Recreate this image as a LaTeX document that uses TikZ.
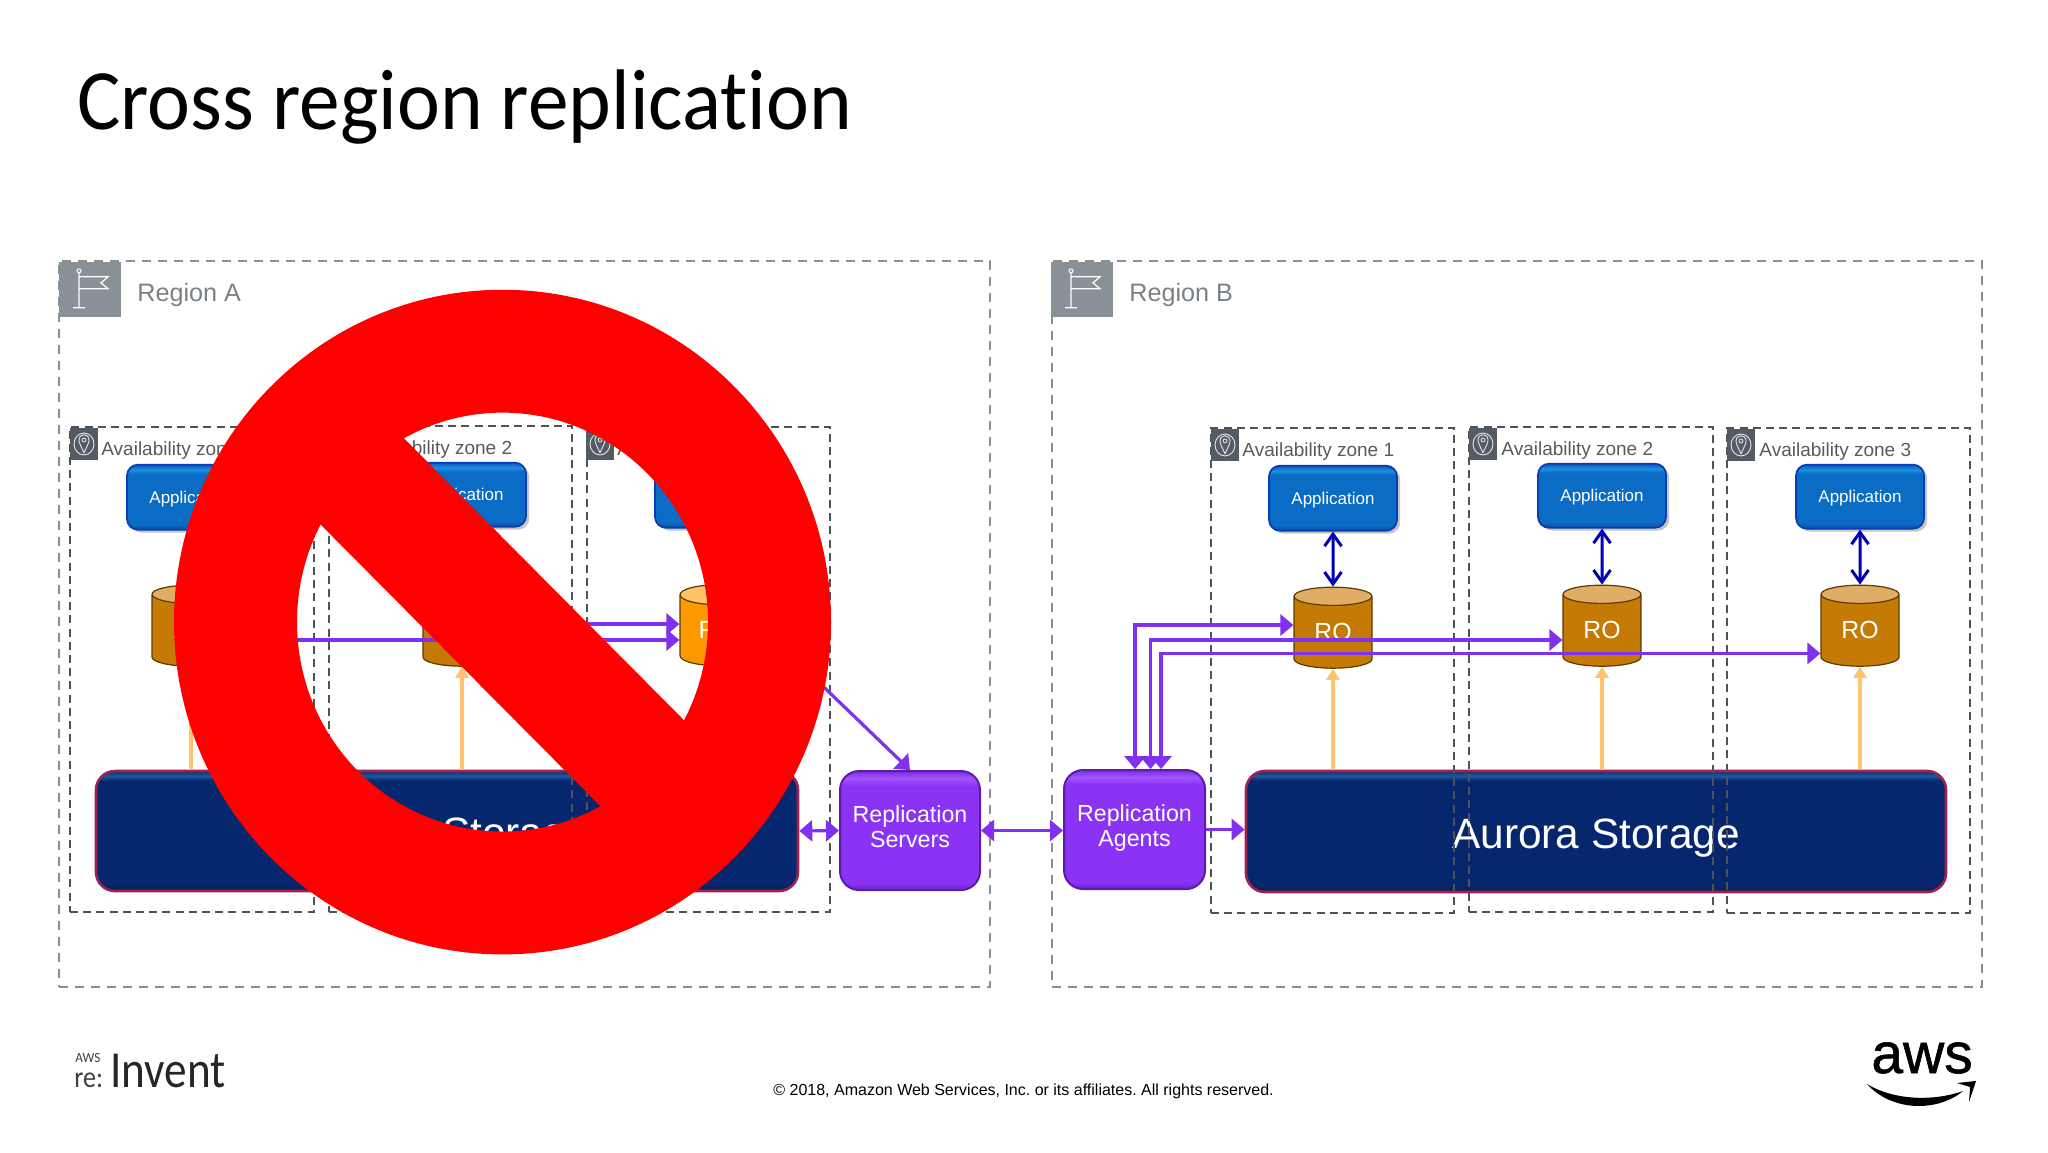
\documentclass[tikz,border=0pt]{standalone}
\usepackage{fontspec}
\setmainfont{Liberation Sans}
\newfontfamily\titlefont[FakeStretch=0.945,Ligatures=NoCommon]{Carlito}
\newfontfamily\logofont[FakeStretch=0.87,Ligatures=NoCommon]{Carlito}
\newfontfamily\awsfont[FakeBold=1]{Liberation Sans}
\usetikzlibrary{arrows.meta,shapes.geometric,shadows,calc}
\definecolor{regiong}{HTML}{8A8F94}
\definecolor{flagg}{HTML}{879196}
\definecolor{azdash}{HTML}{4F5358}
\definecolor{azicon}{HTML}{545B64}
\definecolor{aztext}{HTML}{5A5A5A}
\definecolor{purp}{HTML}{8031F0}
\definecolor{bluearrow}{HTML}{0000B4}
\definecolor{orarrow}{HTML}{FFC26E}
\definecolor{robody}{HTML}{C47A05}
\definecolor{rotop}{HTML}{E0AD66}
\definecolor{rwbody}{HTML}{FF9900}
\definecolor{rwtop}{HTML}{FFC266}
\definecolor{cyledge}{HTML}{5C3C00}
\definecolor{appedge}{HTML}{0A3CB4}
\definecolor{storedge}{HTML}{A02050}
\definecolor{a1}{HTML}{0A4C9E}\definecolor{a2}{HTML}{0A6CC4}\definecolor{a3}{HTML}{2090E0}\definecolor{a4}{HTML}{0A58BC}
\definecolor{p1}{HTML}{6A22C8}\definecolor{p2}{HTML}{8A33F5}\definecolor{p3}{HTML}{A455FF}\definecolor{p4}{HTML}{7A2BE0}
\definecolor{s1}{HTML}{141C48}\definecolor{s2}{HTML}{06266E}\definecolor{s3}{HTML}{1C5A9C}\definecolor{s4}{HTML}{0A2C70}
\pgfdeclareverticalshading{appshade}{100bp}{color(0bp)=(a1);color(25bp)=(a1);color(29bp)=(a2);color(68bp)=(a2);color(71bp)=(a3);color(75bp)=(a4);color(100bp)=(a4)}
\pgfdeclareverticalshading{purpshade}{100bp}{color(0bp)=(p1);color(25bp)=(p1);color(28bp)=(p2);color(69bp)=(p2);color(72bp)=(p3);color(75bp)=(p4);color(100bp)=(p4)}
\pgfdeclareverticalshading{storshade}{100bp}{color(0bp)=(s1);color(25bp)=(s1);color(28bp)=(s2);color(71bp)=(s2);color(73bp)=(s3);color(75bp)=(s4);color(100bp)=(s4)}
\tikzset{
  x=0.5pt,y=-0.5pt,
  regionbox/.style={draw=regiong,line width=1pt,dash pattern=on 4.5pt off 3.5pt,inner sep=0pt},
  azbox/.style={draw=azdash,line width=1pt,dash pattern=on 4pt off 2.6pt,inner sep=0pt},
  appbox/.style={draw=appedge,line width=.9pt,rounded corners=5.5pt,shading=appshade,inner sep=0pt,text=white,
     font=\fontsize{8.5}{10}\selectfont,text depth=0pt,drop shadow={shadow xshift=1.6pt,shadow yshift=-1.4pt,opacity=.32,fill=black!70}},
  purpbox/.style={draw=p1!85!black,line width=1pt,rounded corners=9.5pt,shading=purpshade,inner sep=0pt,text=white,align=center,
     font=\fontsize{11.6}{12.6}\selectfont,text depth=4pt},
  storbox/.style={draw=storedge,line width=1.3pt,rounded corners=9.5pt,shading=storshade,inner sep=0pt,text=white,
     font=\fontsize{21.2}{24}\selectfont,text height=16.5pt,text depth=0pt},
  cyl/.style={cylinder,shape border rotate=90,aspect=.49,minimum width=39pt,minimum height=40.5pt,inner sep=0pt,
     cylinder uses custom fill,draw=cyledge,line width=.6pt,text=white,font=\fontsize{12.4}{14}\selectfont,
     text height=9pt,text depth=1pt},
  robox/.style={cyl,cylinder body fill=robody,cylinder end fill=rotop},
  rwbox/.style={cyl,cylinder body fill=rwbody,cylinder end fill=rwtop},
  purparrow/.style={draw=purp,line width=1.6pt},
  bluedbl/.style={draw=bluearrow,line width=1.5pt,{Straight Barb[length=6pt,width=8.5pt,line width=1.5pt]}-{Straight Barb[length=6pt,width=8.5pt,line width=1.5pt]}},
  orange up/.style={draw=orarrow,line width=1.7pt,-{Triangle[length=5.5pt,width=6.5pt]}},
  regionlabel/.style={text=regiong!90!black,font=\fontsize{12.6}{14}\selectfont,anchor=west,inner sep=0pt},
  azlabel/.style={text=aztext,font=\fontsize{9.5}{11}\selectfont,anchor=west,inner sep=0pt},
  ttip/.tip={Triangle[length=6.5pt,width=10.5pt]},
}
\newcommand{\boxat}[7]{\node[#1,minimum width={(#5-#3)*0.5pt},minimum height={(#6-#4)*0.5pt}] (#2) at ({(#3+#5)/2},{(#4+#6)/2}) {#7};}
\newcommand{\flagicon}[2]{%
  \fill[flagg] (#2,262) rectangle ++(62,55);
  \draw[white,line width=.6pt] (#2+20,272) -- (#2+20,308) (#2+14,308) -- (#2+26,308)
     (#2+20,277) -- (#2+49,277) -- (#2+42,283) -- (#2+49,289) -- (#2+20,289);
  \draw[white,line width=.5pt] (#2+20,271) circle[radius=2];
}
\newcommand{\azicon}[2]{%
  \fill[azicon] (#1,#2) rectangle ++(28,32);
  \draw[white!85!azicon,line width=.45pt] (#1+14,#2+16) circle[x radius=10,y radius=11];
  \draw[white!85!azicon,line width=.45pt] (#1+14,#2+25) .. controls (#1+11,#2+18) and (#1+9,#2+15) .. (#1+9,#2+12)
     .. controls (#1+9,#2+5) and (#1+19,#2+5) .. (#1+19,#2+12) .. controls (#1+19,#2+15) and (#1+17,#2+18) .. (#1+14,#2+25);
  \draw[white!85!azicon,line width=.4pt] (#1+14,#2+12) circle[radius=2];
}
\frenchspacing
\begin{document}
\begin{tikzpicture}
\useasboundingbox (0,0) rectangle (2048,1152);
\fill[white] (0,0) rectangle (2048,1152);

% title
\node[anchor=base west,inner sep=0pt,font=\titlefont\fontsize{43}{48}\selectfont] (title) at (77,129) {Cross region replication};

\begin{scope}[y=-0.4975pt,yshift=-0.6pt]
% regions
\boxat{regionbox}{regA}{59}{263}{990}{989}{}
\boxat{regionbox}{regB}{1052}{263}{1982}{989}{}
\flagicon{fa}{59}
\flagicon{fb}{1051}
\node[regionlabel] (lra) at (137,295.5) {Region A};
\node[regionlabel] (lrb) at (1129,295.5) {Region B};

% storage
\boxat{storbox}{stA}{96}{774}{798}{894}{Aurora Storage}
\boxat{storbox}{stB}{1246}{774}{1946}{895}{Aurora Storage}

% availability zones
\boxat{azbox}{aza1}{70}{429}{314}{914}{}
\boxat{azbox}{aza2}{329}{428}{572}{914}{}
\boxat{azbox}{aza3}{587}{429}{830}{914}{}
\boxat{azbox}{azb1}{1211}{430}{1454}{915}{}
\boxat{azbox}{azb2}{1469}{429}{1713}{914}{}
\boxat{azbox}{azb3}{1727}{430}{1970}{915}{}
\azicon{70}{429}\azicon{329}{429}\azicon{586}{429}
\azicon{1211}{430}\azicon{1469}{429}\azicon{1727}{430}
\node[azlabel] (la1) at (101,451.5) {Availability zone 1};
\node[azlabel] (la2) at (360,450.5) {Availability zone 2};
\node[azlabel] (la3) at (617,451.5) {Availability zone 3};
\node[azlabel] (lb1) at (1242,452.5) {Availability zone 1};
\node[azlabel] (lb2) at (1501,451.5) {Availability zone 2};
\node[azlabel] (lb3) at (1759,452.5) {Availability zone 3};

% applications
\boxat{appbox}{appa1}{127}{466}{255}{531}{Application}
\boxat{appbox}{appa2}{398}{464}{526}{528}{Application}
\boxat{appbox}{appa3}{655}{465}{783}{529}{Application}
\boxat{appbox}{appb1}{1269}{467}{1397}{532}{Application}
\boxat{appbox}{appb2}{1538}{465}{1666}{529}{Application}
\boxat{appbox}{appb3}{1796}{466}{1924}{530}{Application}

% databases
\node[robox] (ca1) at (191,632.5) {RO};
\node[robox] (ca2) at (462,632.5) {RO};
\node[rwbox] (ca3) at (719,632.5) {RW};
\node[robox] (cb1) at (1333,634.5) {RO};
\node[robox] (cb2) at (1602,632.5) {RO};
\node[robox] (cb3) at (1860,632.5) {RO};

% replication boxes
\boxat{purpbox}{srv}{840}{774}{980}{893}{Replication\\Servers}
\boxat{purpbox}{agt}{1064}{773}{1205}{892}{Replication\\Agents}

% blue arrows
\draw[bluedbl] (appb1.south) -- (cb1.north);
\draw[bluedbl] (appb2.south) -- (cb2.north);
\draw[bluedbl] (appb3.south) -- (cb3.north);

% orange arrows
\draw[orange up] (ca1.south |- stA.north) -- (ca1.south);
\draw[orange up] (ca2.south |- stA.north) -- (ca2.south);
\draw[orange up] (ca3.south |- stA.north) -- (ca3.south);
\draw[orange up] (cb1.south |- stB.north) -- (cb1.south);
\draw[orange up] (cb2.south |- stB.north) -- (cb2.south);
\draw[orange up] (cb3.south |- stB.north) -- (cb3.south);

% purple arrows region A
\coordinate (ya1) at (0,642);
\coordinate (ya2) at (0,626);
\draw[purparrow,-ttip] (ca1.east |- ya1) -- (ca3.west |- ya1);
\draw[purparrow,-ttip] (ca2.east |- ya2) -- (ca3.west |- ya2);
\coordinate (dstart) at (810,676);
\draw[purparrow,-ttip] (dstart) -- (srv.north);
\draw[purparrow,ttip-ttip] (stA.east) -- (srv.west);
\draw[purparrow,ttip-ttip] (srv.east) -- (srv.east -| agt.west);
\draw[purparrow,-ttip] (agt.east) -- (agt.east -| stB.west);

% purple arrows region B
\coordinate (b1) at (1135,627);
\coordinate (b2) at (1150.5,642);
\coordinate (b3) at (1161,655.5);
\draw[purparrow,ttip-ttip] (b1 |- agt.north) -- (b1) -- (b1 -| cb1.west);
\draw[purparrow,ttip-ttip] (b2 |- agt.north) -- (b2) -- (b2 -| cb2.west);
\draw[purparrow,ttip-ttip] (b3 |- agt.north) -- (b3) -- (b3 -| cb3.west);

% prohibition sign
\coordinate (ringc) at (502.5,624);
\fill[red,even odd rule] (ringc) circle[x radius=328.5,y radius=334] (ringc) circle[x radius=205.5,y radius=210.5];
\fill[red] (377,412) -- (292,497) -- (629,838) -- (711,750) -- cycle;
\end{scope}

% footer
\node[anchor=base west,inner sep=0pt,font=\fontsize{8}{10}\selectfont] (copy) at (773,1095) {© 2018, Amazon Web Services, Inc. or its affiliates. All rights reserved.};
\node[anchor=base west,inner sep=0pt,font=\titlefont\fontsize{7}{8}\selectfont,text=black!75] (lgaws) at (75,1062) {AWS};
\node[anchor=base west,inner sep=0pt,font=\logofont\fontsize{15}{16}\selectfont,text=black!75] (lgre) at (74,1087) {re:};
\node[anchor=base west,inner sep=0pt,font=\logofont\fontsize{26}{30}\selectfont,text=black!85] (lginv) at (110,1087) {Invent};
\node[anchor=base west,inner sep=0pt,font=\awsfont\fontsize{28.5}{32}\selectfont] (lgw) at (1871,1073) {aws};
\fill[black] (1867,1084) .. controls (1895,1101) and (1935,1101) .. (1963,1091)
   .. controls (1938,1112) and (1892,1112) .. (1867,1084) -- cycle;
\fill[black] (1957,1083) -- (1976,1081) -- (1969,1102) -- (1970,1087) -- cycle;
\end{tikzpicture}
\end{document}
